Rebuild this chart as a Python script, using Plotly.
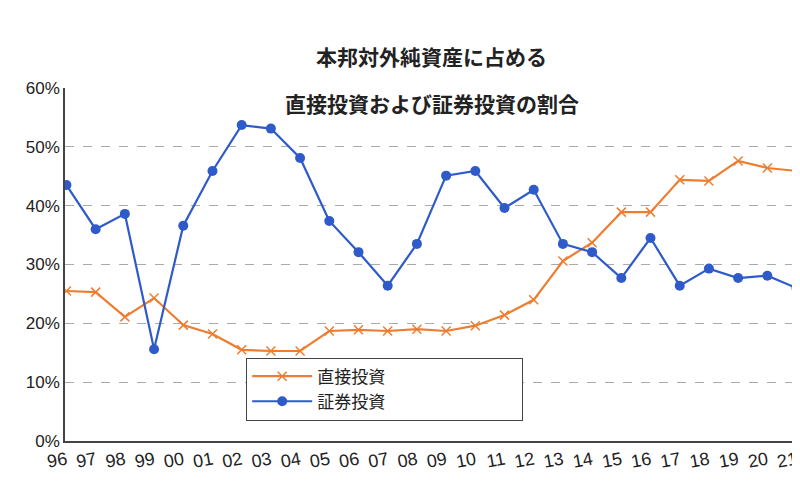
import plotly.graph_objects as go

years = ["96","97","98","99","00","01","02","03","04","05","06","07","08","09","10","11","12","13","14","15","16","17","18","19","20","21"]
direct = [25.5,25.3,21.1,24.3,19.7,18.2,15.5,15.3,15.3,18.7,18.9,18.7,19.0,18.7,19.6,21.4,24.0,30.6,33.7,38.9,38.9,44.4,44.2,47.6,46.4,45.9]
portfolio = [43.5,36.0,38.6,15.6,36.6,45.9,53.7,53.1,48.1,37.4,32.1,26.4,33.5,45.1,45.9,39.6,42.7,33.5,32.1,27.7,34.5,26.4,29.3,27.7,28.1,26.0]
title_lines = ["本邦対外純資産に占める", "直接投資および証券投資の割合"]

fig = go.Figure()
fig.add_trace(go.Scatter(x=years, y=[v/100 for v in direct], name="直接投資", mode="lines+markers",
    line=dict(color="#ED7D31", width=2.2), marker=dict(symbol="x-thin", size=9, line=dict(color="#ED7D31", width=1.5))))
fig.add_trace(go.Scatter(x=years, y=[v/100 for v in portfolio], name="証券投資", mode="lines+markers",
    line=dict(color="#2E5BC9", width=2.2), marker=dict(symbol="circle", size=10, color="#2E5BC9")))

for i, t in enumerate(title_lines):
    fig.add_annotation(text="<b>%s</b>" % t, xref="paper", yref="paper", x=0.5, y=(483-80-18-47*i)/353 + 0.0,
                       yanchor="middle", showarrow=False, font=dict(size=21, color="#222"))

fig.update_layout(
    width=800, height=483, paper_bgcolor="white", plot_bgcolor="white",
    margin=dict(l=57, r=10, t=80, b=50),
    font=dict(family="Noto Sans CJK JP", color="#222"),
    xaxis=dict(range=[-0.05, 25.05], showline=True, linecolor="#444", linewidth=1.5, showgrid=False,
               tickangle=-10, tickfont=dict(size=18, family="Liberation Sans")),
    yaxis=dict(range=[0, 0.6], dtick=0.1, tickformat=".0%", showline=True, linecolor="#444", linewidth=1.5,
               showgrid=True, gridcolor="#aaa", griddash="dash", zeroline=False, tickfont=dict(size=17, family="Liberation Sans")),
    legend=dict(orientation="h", x=0.366, xanchor="left", y=0.147, yanchor="middle", bordercolor="#444", borderwidth=1,
                bgcolor="white", font=dict(size=17), entrywidthmode="pixels", entrywidth=200, itemwidth=60),
    showlegend=True,
)
fig.update_layout(legend_tracegroupgap=0)
fig.write_html("out.html")
